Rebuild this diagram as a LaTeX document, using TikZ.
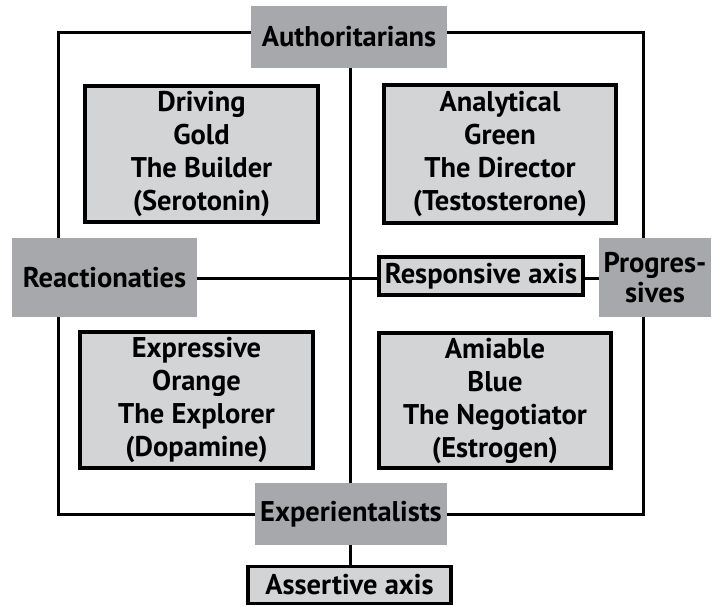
\documentclass[tikz,border=0pt]{standalone}
\usepackage{fontspec}
\setmainfont{PT Sans}
\begin{document}
\begin{tikzpicture}[x=1pt,y=-1pt,
  every node/.style={font=\bfseries\fontsize{28.5}{33}\selectfont, inner sep=0pt, align=center},
  pole/.style={fill=poleGray, draw=none},
  quad/.style={fill=quadGray, draw=black, line width=4pt},
  axisbox/.style={fill=quadGray, draw=black, line width=3.5pt},
  wire/.style={draw=black, line width=3pt}]
\definecolor{poleGray}{HTML}{A7A8AB}
\definecolor{quadGray}{HTML}{D3D4D6}
\useasboundingbox (0,0) rectangle (720,606);

% outer frame
\coordinate (tl) at (58,32);
\coordinate (br) at (643,514);
\draw[wire] (tl) rectangle (br);

% pole labels
\node[pole, minimum width=196pt, minimum height=62pt] (auth) at (349,37) {Authoritarians};
\node[pole, minimum width=192pt, minimum height=62pt] (expe) at (351,514) {Experientalists};
\node[pole, minimum width=185pt, minimum height=79pt] (react) at (104.5,277.5) {Reactionaties};
\node[pole, minimum width=112pt, minimum height=79pt, font=\bfseries\fontsize{28.5}{30}\selectfont] (prog) at (655,277.5) {Progres-\\sives};

% quadrant boxes
\node[quad, minimum width=233pt, minimum height=136pt] (drv) at (201.5,154) {Driving\\Gold\\The Builder\\(Serotonin)};
\node[quad, minimum width=232pt, minimum height=138pt] (ana) at (500,154) {Analytical\\Green\\The Director\\(Testosterone)};
\node[quad, minimum width=233pt, minimum height=136pt] (xpr) at (196.5,400) {Expressive\\Orange\\The Explorer\\(Dopamine)};
\node[quad, minimum width=232pt, minimum height=135pt] (ami) at (495,400.5) {Amiable\\Blue\\The Negotiator\\(Estrogen)};

% axis labels
\node[axisbox, minimum width=204pt, minimum height=38pt] (resp) at (481,276) {Responsive axis};
\node[axisbox, minimum width=203pt, minimum height=37pt] (asrt) at (349.5,585) {Assertive axis};

% axes
\draw[wire] (auth.south -| 350,0) -- (expe.north -| 350,0);
\draw[wire] (react.east |- 0,278) -- (resp.west |- 0,278);
\draw[wire] (resp.east |- 0,278) -- (prog.west |- 0,278);
\draw[wire] (expe.south -| 350,0) -- (asrt.north -| 350,0);
\end{tikzpicture}
\end{document}
